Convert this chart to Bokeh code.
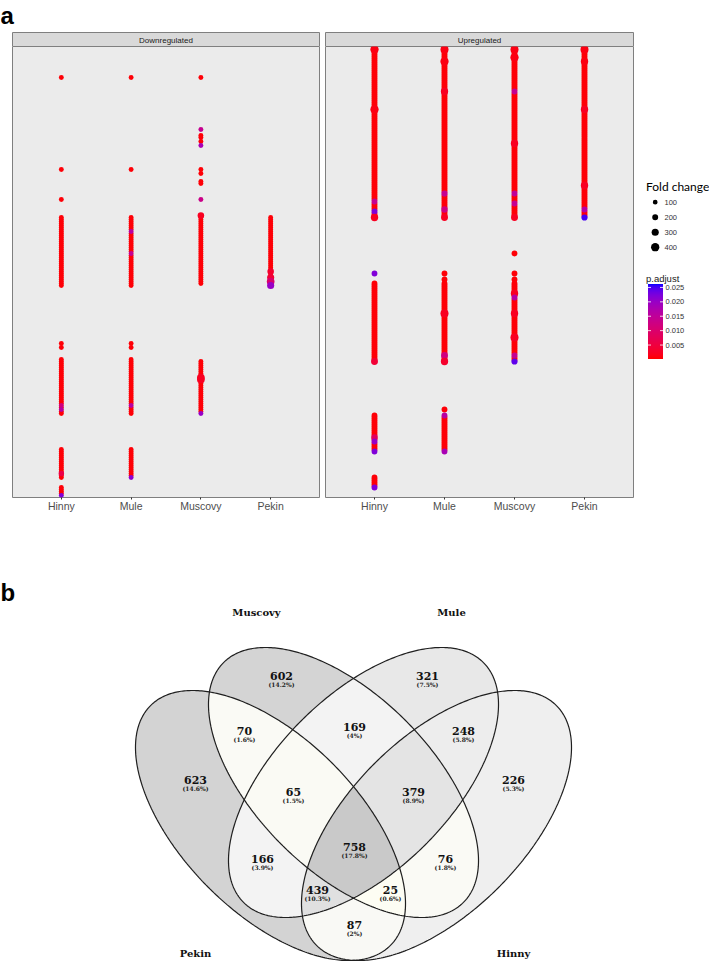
import numpy as np
from bokeh.plotting import figure
from bokeh.layouts import row, column
from bokeh.models import (ColumnDataSource, FactorRange, Range1d, LinearColorMapper,
                          LinearInterpolator)
from bokeh.transform import linear_cmap, transform
from bokeh.core.properties import value
from bokeh.embed import file_html
from bokeh.resources import INLINE

# ======================= DATA : panel a =======================
samples = ["Hinny", "Mule", "Muscovy", "Pekin"]
facets = ["Downregulated", "Upregulated"]

# y = index of the (unlabelled) enriched term on the shared y axis, 0 = bottom.
# runs of consecutive terms present for each sample: (first, last)
down_hinny_runs = [(1, 5), (10, 24), (42, 69), (75, 75), (77, 77), (106, 140), (149, 149), (164, 164), (210, 210)]
down_mule_runs = [(10, 24), (42, 69), (75, 75), (77, 77), (106, 140), (164, 164), (210, 210)]
down_muscovy_runs = [(42, 68), (107, 141), (149, 149), (157, 158), (162, 162), (164, 164),
                     (176, 176), (178, 178), (180, 181), (184, 184), (210, 210)]
down_pekin_runs = [(106, 140)]
up_hinny_runs = [(5, 10), (23, 41), (68, 107), (112, 112), (140, 224)]
up_mule_runs = [(23, 41), (44, 44), (68, 107), (109, 109), (112, 112), (140, 224)]
up_muscovy_runs = [(68, 107), (109, 109), (112, 112), (122, 122), (140, 224)]
up_pekin_runs = [(140, 224)]

# typical term in each facet: fold change and p.adjust
down_bulk_fold_change = 110
up_bulk_fold_change = 190
bulk_p_adjust = 0.0005

# terms that differ from the bulk: (term, fold change, p.adjust)
down_hinny_marked = [(46, 110, 0.012), (44, 110, 0.016), (12, 160, 0.006), (1, 110, 0.022)]
down_mule_marked = [(133, 110, 0.016), (122, 110, 0.014), (46, 110, 0.016), (10, 110, 0.021)]
down_muscovy_marked = [(184, 110, 0.014), (176, 110, 0.018), (149, 110, 0.013), (141, 250, 0.002),
                       (60, 350, 0.002), (59, 350, 0.002), (42, 110, 0.020)]
down_pekin_marked = [(113, 250, 0.003), (110, 300, 0.004), (108, 350, 0.010), (106, 300, 0.020)]
up_hinny_marked = [(224, 420, 0.001), (194, 520, 0.001), (148, 190, 0.014), (143, 200, 0.022),
                   (140, 320, 0.002), (112, 190, 0.022), (68, 280, 0.004), (30, 250, 0.008),
                   (28, 200, 0.020), (23, 190, 0.022), (5, 200, 0.022)]
up_mule_marked = [(224, 380, 0.001), (218, 620, 0.001), (203, 320, 0.002), (152, 220, 0.014),
                  (144, 250, 0.012), (140, 280, 0.002), (92, 380, 0.002), (71, 280, 0.012),
                  (68, 320, 0.003), (41, 190, 0.016), (23, 190, 0.018)]
up_muscovy_marked = [(224, 380, 0.001), (220, 450, 0.001), (203, 190, 0.014), (177, 320, 0.002),
                     (152, 190, 0.015), (147, 190, 0.014), (140, 280, 0.002), (102, 320, 0.002),
                     (100, 190, 0.016), (92, 320, 0.002), (80, 380, 0.002), (71, 200, 0.014),
                     (68, 220, 0.024)]
up_pekin_marked = [(224, 380, 0.001), (218, 320, 0.001), (194, 320, 0.002), (156, 320, 0.002),
                   (144, 200, 0.016), (140, 220, 0.025)]

fold_change_breaks = [100, 200, 300, 400]
p_adjust_breaks = [0.005, 0.010, 0.015, 0.020, 0.025]
p_adjust_labels = ["0.005", "0.010", "0.015", "0.020", "0.025"]
p_min, p_max = 0.00015, 0.0262

# ======================= DATA : panel b =======================
venn_sets = ["Pekin", "Muscovy", "Mule", "Hinny"]
# membership (Pekin, Muscovy, Mule, Hinny)
venn_members = [(1, 0, 0, 0), (0, 1, 0, 0), (0, 0, 1, 0), (0, 0, 0, 1),
                (1, 1, 0, 0), (0, 1, 1, 0), (0, 0, 1, 1), (1, 1, 1, 0),
                (0, 1, 1, 1), (1, 1, 1, 1), (1, 0, 1, 0), (0, 1, 0, 1),
                (1, 0, 1, 1), (1, 1, 0, 1), (1, 0, 0, 1)]
venn_counts = [623, 602, 321, 226, 70, 169, 248, 65, 379, 758, 166, 76, 439, 25, 87]
venn_percent = ["(14.6%)", "(14.2%)", "(7.5%)", "(5.3%)", "(1.6%)", "(4%)", "(5.8%)", "(1.5%)",
                "(8.9%)", "(17.8%)", "(3.9%)", "(1.8%)", "(10.3%)", "(0.6%)", "(2%)"]

# ======================= LAYOUT / STYLE =======================
PAGE_H = 966


def Y(py):
    return PAGE_H - py


# region label positions (page px), same order as venn_counts
venn_label_xy = [(195, 779), (281, 675), (427, 675), (513, 779), (244, 730), (354, 726),
                 (463, 730), (293, 791), (413, 791), (354, 846), (262, 858), (445, 858),
                 (317, 889), (390, 889), (354, 924)]
venn_set_label_xy = [(195, 953), (256, 612), (451, 612), (513, 953)]
ell_a, ell_b = 169.6, 87.7
ell_centers = [(270, 825), (343, 782), (363, 782), (436, 825)]
ell_angles = [45, 45, -45, -45]


# ---------- colour palette (red -> blue, Lab interpolation) ----------
_M = np.array([[0.4124564, 0.3575761, 0.1804375],
               [0.2126729, 0.7151522, 0.0721750],
               [0.0193339, 0.1191920, 0.9503041]])
_W = np.array([0.95047, 1.0, 1.08883])


def _lab(rgb):
    c = np.asarray(rgb, float) / 255.0
    lin = np.where(c > 0.04045, ((c + 0.055) / 1.055) ** 2.4, c / 12.92)
    xyz = _M @ lin / _W
    f = np.where(xyz > 0.008856, np.cbrt(xyz), 7.787 * xyz + 16 / 116)
    return np.array([116 * f[1] - 16, 500 * (f[0] - f[1]), 200 * (f[1] - f[2])])


def _hex(lab):
    L, a, b = lab
    fy = (L + 16) / 116
    f = np.array([fy + a / 500, fy, fy - b / 200])
    xyz = np.where(f ** 3 > 0.008856, f ** 3, (f - 16 / 116) / 7.787) * _W
    lin = np.clip(np.linalg.inv(_M) @ xyz, 0, 1)
    c = np.where(lin > 0.0031308, 1.055 * lin ** (1 / 2.4) - 0.055, 12.92 * lin)
    return "#%02x%02x%02x" % tuple(int(round(v * 255)) for v in np.clip(c, 0, 1))


_l0, _l1 = _lab((255, 0, 0)), _lab((0, 0, 255))
palette = [_hex(_l0 + (_l1 - _l0) * k / 255.0) for k in range(256)]

size_map = LinearInterpolator(x=[100, 400], y=[4.8, 8.3], clip=False)
color_spec = linear_cmap("p", palette, p_min, p_max)


def build_source(runs, marked, bulk_fc):
    xs, ys, fcs, ps = [], [], [], []
    for s in samples:
        mt = {m[0] for m in marked[s]}
        for a, b in runs[s]:
            for t in range(a, b + 1):
                if t not in mt:
                    xs.append(s); ys.append(t); fcs.append(bulk_fc); ps.append(bulk_p_adjust)
    for s in samples:
        for t, fc, p in marked[s]:
            xs.append(s); ys.append(t); fcs.append(fc); ps.append(p)
    return ColumnDataSource(dict(x=xs, y=ys, fc=fcs, p=ps))


down_src = build_source(
    dict(zip(samples, [down_hinny_runs, down_mule_runs, down_muscovy_runs, down_pekin_runs])),
    dict(zip(samples, [down_hinny_marked, down_mule_marked, down_muscovy_marked, down_pekin_marked])),
    down_bulk_fold_change)
up_src = build_source(
    dict(zip(samples, [up_hinny_runs, up_mule_runs, up_muscovy_runs, up_pekin_runs])),
    dict(zip(samples, [up_hinny_marked, up_mule_marked, up_muscovy_marked, up_pekin_marked])),
    up_bulk_fold_change)

SANS = value("Liberation Sans")
SERIF = value("DejaVu Serif")


def blank_fig(w, h, x0, x1, ptop, pbot, **kw):
    opts = dict(min_border=0)
    opts.update(kw)
    f = figure(width=w, height=h, x_range=Range1d(x0, x1), y_range=Range1d(Y(pbot), Y(ptop)),
               output_backend="svg", toolbar_location=None,
               x_axis_location=None, y_axis_location=None, outline_line_color=None,
               background_fill_color="white", border_fill_color="white", **opts)
    for g in f.grid:
        g.visible = False
    return f


# ---------------- header: panel letter + facet strips ----------------
header = blank_fig(709, 46, 0, 709, 0, 46)
strip_l = [12, 325]
strip_r = [319, 633]
header.quad(left=strip_l, right=strip_r, bottom=[Y(46)] * 2, top=[Y(32)] * 2, fill_color="#D9D9D9",
            line_color="#7F7F7F", line_width=1)
header.text(x=[(a + b) / 2 for a, b in zip(strip_l, strip_r)], y=[Y(39.5)] * 2, text=facets,
            text_align="center", text_baseline="middle", text_font=SANS, text_font_size="8px",
            text_color="#1A1A1A")
header.text(x=[0], y=[Y(15)], text=["a"], text_align="left", text_baseline="alphabetic",
            text_font=SANS, text_font_size="24px", text_font_style="bold", text_color="black")


def facet_fig(w, left, right, src):
    f = figure(width=w, height=474,
               x_range=FactorRange(*samples, range_padding=0.2, range_padding_units="absolute"),
               y_range=Range1d(0, 225.5), output_backend="svg", toolbar_location=None,
               min_border_left=left, min_border_right=right, min_border_top=0, min_border_bottom=23,
               y_axis_location=None, background_fill_color="#EBEBEB", border_fill_color="white",
               outline_line_color="#7F7F7F", outline_line_width=1)
    for g in f.grid:
        g.visible = False
    ax = f.xaxis[0]
    ax.axis_line_color = None
    ax.major_tick_line_color = "#333333"
    ax.major_tick_out = 2
    ax.major_tick_in = 0
    ax.major_label_standoff = 0
    ax.major_label_text_font = "Liberation Sans"
    ax.major_label_text_font_size = "10.5px"
    ax.major_label_text_color = "#4D4D4D"
    f.scatter(x="x", y="y", source=src, size=transform("fc", size_map),
              fill_color=color_spec, line_color=None)
    return f


main_down = facet_fig(322, 12, 3, down_src)
main_up = facet_fig(318, 3, 7, up_src)

# ---------------- legend (frame = page y 46..497) ----------------
leg = blank_fig(69, 474, 640, 709, 46, 497, min_border_bottom=23)
leg.text(x=[645.5], y=[Y(185.5)], text=["Fold change"], text_align="left", text_baseline="middle",
         text_font=value("Lato"), text_font_size="12px", text_color="black")
leg_src = ColumnDataSource(dict(fc=fold_change_breaks,
                                x=[654.7] * 4,
                                lx=[664] * 4,
                                y=[Y(201.7 + 15 * i) for i in range(4)],
                                lab=[str(v) for v in fold_change_breaks]))
leg.scatter(x="x", y="y", source=leg_src, size=transform("fc", size_map),
            fill_color="black", line_color=None)
leg.text(x="lx", y="y", source=leg_src, text="lab", text_align="left", text_baseline="middle",
         text_font=SANS, text_font_size="7.5px", text_color="#333333")
leg.text(x=[645.5], y=[Y(278)], text=["p.adjust"], text_align="left", text_baseline="middle",
         text_font=SANS, text_font_size="9.5px", text_color="#1A1A1A")
bar_x, bar_w, bar_bot, bar_h = 647.5, 15, 358.5, 75
mapper = LinearColorMapper(palette=palette, low=p_min, high=p_max)
grad = np.linspace(p_min, p_max, 150).reshape(150, 1)
leg.image(image=[grad], x=bar_x, y=Y(bar_bot), dw=bar_w, dh=bar_h, color_mapper=mapper)
tick_y = [Y(bar_bot) + (v - p_min) / (p_max - p_min) * bar_h for v in p_adjust_breaks]
leg.segment(x0=[bar_x] * 5, x1=[bar_x + 3] * 5, y0=tick_y, y1=tick_y, line_color="white",
            line_width=1, line_alpha=0.8)
leg.segment(x0=[bar_x + bar_w - 3] * 5, x1=[bar_x + bar_w] * 5, y0=tick_y, y1=tick_y,
            line_color="white", line_width=1, line_alpha=0.8)
leg.text(x=[bar_x + bar_w + 2.5] * 5, y=tick_y, text=p_adjust_labels, text_align="left",
         text_baseline="middle", text_font=SANS, text_font_size="7.5px", text_color="#333333")

# ---------------- Venn ----------------
venn = blank_fig(709, 446, 0, 709, 520, 966)
venn.text(x=[0], y=[Y(592)], text=["b"], text_align="left", text_baseline="alphabetic",
          text_font=SANS, text_font_size="24px", text_font_style="bold", text_color="black")

rx0, rx1, ry0, ry1 = 128, 584, 636, 966
W, H = rx1 - rx0, ry1 - ry0
pxs = rx0 + np.arange(W) + 0.5
pys = PAGE_H - (np.arange(H) + 0.5)
PX, PY = np.meshgrid(pxs, pys)
inside = []
for (cx, cy), ang in zip(ell_centers, ell_angles):
    th = np.deg2rad(ang)
    dx, dy = PX - cx, PY - cy
    du = dx * np.cos(th) + dy * np.sin(th)
    dv = -dx * np.sin(th) + dy * np.cos(th)
    inside.append((du / ell_a) ** 2 + (dv / ell_b) ** 2 <= 1.0)
img = np.zeros((H, W), dtype=np.uint32)
view = img.view(dtype=np.uint8).reshape((H, W, 4))
cmax = max(venn_counts)
for mem, cnt in zip(venn_members, venn_counts):
    mask = np.ones((H, W), bool)
    for k in range(4):
        mask &= inside[k] if mem[k] else ~inside[k]
    g = 255 - 54 * cnt / cmax
    bch = g - 13 * max(0.0, 1 - cnt / 120)
    view[mask, 0] = int(round(g))
    view[mask, 1] = int(round(g))
    view[mask, 2] = int(round(bch))
    view[mask, 3] = 255
venn.image_rgba(image=[img], x=rx0, y=Y(ry1), dw=W, dh=H)

tt = np.linspace(0, 2 * np.pi, 400)
xs_l, ys_l = [], []
for (cx, cy), ang in zip(ell_centers, ell_angles):
    th = np.deg2rad(ang)
    ex = cx + ell_a * np.cos(tt) * np.cos(th) - ell_b * np.sin(tt) * np.sin(th)
    ey = cy + ell_a * np.cos(tt) * np.sin(th) + ell_b * np.sin(tt) * np.cos(th)
    xs_l.append(list(ex)); ys_l.append(list(Y(ey)))
venn.multi_line(xs=xs_l, ys=ys_l, line_color="#1F1F1F", line_width=1.2)

venn.text(x=[p[0] for p in venn_label_xy], y=[Y(p[1]) for p in venn_label_xy],
          text=[str(c) for c in venn_counts], text_align="center", text_baseline="middle",
          text_font=SERIF, text_font_style="bold", text_font_size="11px", text_color="#111111")
venn.text(x=[p[0] for p in venn_label_xy], y=[Y(p[1] + 9) for p in venn_label_xy],
          text=venn_percent, text_align="center", text_baseline="middle",
          text_font=SERIF, text_font_style="bold", text_font_size="6px", text_color="#222222")
venn.text(x=[p[0] for p in venn_set_label_xy], y=[Y(p[1]) for p in venn_set_label_xy],
          text=venn_sets, text_align="center", text_baseline="middle",
          text_font=SERIF, text_font_style="bold", text_font_size="10px", text_color="#111111")

layout = column(header, row(main_down, main_up, leg), venn)
open("out.html", "w").write(file_html(layout, INLINE))
